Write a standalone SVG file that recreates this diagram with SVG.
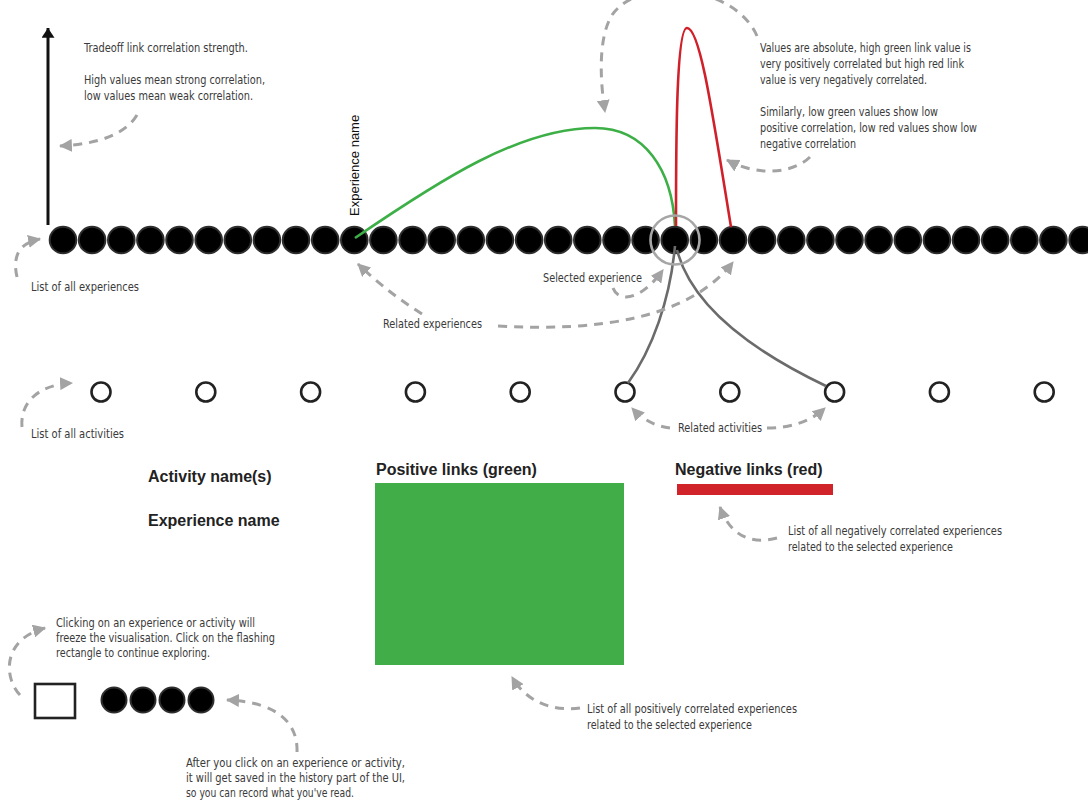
<svg xmlns="http://www.w3.org/2000/svg" width="1088" height="803" viewBox="0 0 1088 803">
<defs>
<marker id="ah" viewBox="0 0 12 12" refX="11" refY="6" markerWidth="13" markerHeight="13" markerUnits="userSpaceOnUse" orient="auto">
<path d="M0,0 L12,6 L0,12 z" fill="#a3a3a3"/>
</marker>
<marker id="bh" viewBox="0 0 12 16" refX="12" refY="8" markerWidth="16" markerHeight="13" markerUnits="userSpaceOnUse" orient="auto">
<path d="M0,0 L12,8 L0,16 z" fill="#111"/>
</marker>
</defs>
<style>
.exp{fill:#000;stroke:#2e2e2e;stroke-width:2}
.act{fill:#fff;stroke:#222;stroke-width:2.6}
.note{font-family:"Liberation Sans Narrow","DejaVu Sans Condensed","Liberation Sans",sans-serif;font-size:13px;fill:#3a3a3a}
.lbl{font-family:"Liberation Sans",Arial,sans-serif;font-size:16px;font-weight:bold;fill:#222}
.dash{fill:none;stroke:#a3a3a3;stroke-width:3;stroke-dasharray:9 7;marker-end:url(#ah)}
.link{fill:none;stroke-width:2.6}
</style>
<rect width="1088" height="803" fill="#fff"/>

<g id="axis">
<line x1="48" y1="225" x2="48" y2="28" stroke="#111" stroke-width="3" marker-end="url(#bh)"/>
</g>

<g id="experiences">
<circle class="exp" cx="63" cy="240" r="13.3"/>
<circle class="exp" cx="92.1" cy="240" r="13.3"/>
<circle class="exp" cx="121.3" cy="240" r="13.3"/>
<circle class="exp" cx="150.4" cy="240" r="13.3"/>
<circle class="exp" cx="179.5" cy="240" r="13.3"/>
<circle class="exp" cx="208.7" cy="240" r="13.3"/>
<circle class="exp" cx="237.8" cy="240" r="13.3"/>
<circle class="exp" cx="266.9" cy="240" r="13.3"/>
<circle class="exp" cx="296" cy="240" r="13.3"/>
<circle class="exp" cx="325.2" cy="240" r="13.3"/>
<circle class="exp" cx="354.3" cy="240" r="13.3"/>
<circle class="exp" cx="383.4" cy="240" r="13.3"/>
<circle class="exp" cx="412.6" cy="240" r="13.3"/>
<circle class="exp" cx="441.7" cy="240" r="13.3"/>
<circle class="exp" cx="470.8" cy="240" r="13.3"/>
<circle class="exp" cx="499.9" cy="240" r="13.3"/>
<circle class="exp" cx="529.1" cy="240" r="13.3"/>
<circle class="exp" cx="558.2" cy="240" r="13.3"/>
<circle class="exp" cx="587.3" cy="240" r="13.3"/>
<circle class="exp" cx="616.5" cy="240" r="13.3"/>
<circle class="exp" cx="645.6" cy="240" r="13.3"/>
<circle class="exp" cx="674.7" cy="240" r="13.3"/>
<circle class="exp" cx="703.9" cy="240" r="13.3"/>
<circle class="exp" cx="733" cy="240" r="13.3"/>
<circle class="exp" cx="762.1" cy="240" r="13.3"/>
<circle class="exp" cx="791.3" cy="240" r="13.3"/>
<circle class="exp" cx="820.4" cy="240" r="13.3"/>
<circle class="exp" cx="849.5" cy="240" r="13.3"/>
<circle class="exp" cx="878.6" cy="240" r="13.3"/>
<circle class="exp" cx="907.8" cy="240" r="13.3"/>
<circle class="exp" cx="936.9" cy="240" r="13.3"/>
<circle class="exp" cx="966" cy="240" r="13.3"/>
<circle class="exp" cx="995.2" cy="240" r="13.3"/>
<circle class="exp" cx="1024.3" cy="240" r="13.3"/>
<circle class="exp" cx="1053.4" cy="240" r="13.3"/>
<circle class="exp" cx="1082.6" cy="240" r="13.3"/>
</g>

<g id="activities">
<circle class="act" cx="101" cy="392" r="9.5"/>
<circle class="act" cx="205.8" cy="392" r="9.5"/>
<circle class="act" cx="310.6" cy="392" r="9.5"/>
<circle class="act" cx="415.4" cy="392" r="9.5"/>
<circle class="act" cx="520.2" cy="392" r="9.5"/>
<circle class="act" cx="625" cy="392" r="9.5"/>
<circle class="act" cx="729.8" cy="392" r="9.5"/>
<circle class="act" cx="834.6" cy="392" r="9.5"/>
<circle class="act" cx="939.4" cy="392" r="9.5"/>
<circle class="act" cx="1044.2" cy="392" r="9.5"/>
</g>

<g id="connectors">
<path class="link" stroke="#3daf47" d="M355,238 C440,180 520,128 595,128 C645,128 672,170 675,226"/>
<path class="link" stroke="#d0202a" d="M676,226 C676,150 676,28 687,28 C700,28 712,110 731,227"/>
<path class="link" stroke="#6b6b6b" d="M675,246 C670,300 652,350 628,383"/>
<path class="link" stroke="#6b6b6b" d="M677,250 C690,300 740,345 826,386"/>
<circle cx="675" cy="240" r="24.5" fill="none" stroke="#a6a6a6" stroke-width="2.6"/>
</g>

<g id="experience-name-label">
<text transform="translate(359,216) rotate(-90)" font-family="Liberation Sans,Arial,sans-serif" font-size="13" fill="#111">Experience name</text>
</g>

<g id="annotations">
<path class="dash" d="M137,115 Q120,143 60,146"/>
<path class="dash" d="M17,277 C12,255 20,243 40,239"/>
<path class="dash" d="M757,36 C735,-15 640,-25 612,15 C598,38 600,80 605,112"/>
<path class="dash" d="M810,157 C795,172 760,178 727,160"/>
<path class="dash" d="M613,288 C618,302 640,302 663,270"/>
<path class="dash" d="M422,314 C400,300 380,285 358,264"/>
<path class="dash" d="M498,326 C600,332 690,318 733,262"/>
<path class="dash" d="M670,428 C655,426 643,420 632,408"/>
<path class="dash" d="M767,428 C790,428 810,422 825,408"/>
<path class="dash" d="M22,427 C20,405 35,385 72,383"/>
<path class="dash" d="M777,538 C750,545 730,535 720,507"/>
<path class="dash" d="M580,708 C550,712 525,700 512,677"/>
<path class="dash" d="M20,695 C5,680 0,640 45,628"/>
<path class="dash" d="M297,752 C298,725 280,702 227,700"/>
</g>

<g id="notes">
<text class="note" x="84" y="52" textLength="164" lengthAdjust="spacingAndGlyphs">Tradeoff link correlation strength.</text>
<text class="note" x="84" y="84" textLength="181" lengthAdjust="spacingAndGlyphs">High values mean strong correlation,</text>
<text class="note" x="84" y="100" textLength="169" lengthAdjust="spacingAndGlyphs">low values mean weak correlation.</text>
<text class="note" x="31" y="291" textLength="108" lengthAdjust="spacingAndGlyphs">List of all experiences</text>
<text class="note" x="760" y="52" textLength="211" lengthAdjust="spacingAndGlyphs">Values are absolute, high green link value is</text>
<text class="note" x="760" y="68" textLength="204" lengthAdjust="spacingAndGlyphs">very positively correlated but high red link</text>
<text class="note" x="760" y="84" textLength="167" lengthAdjust="spacingAndGlyphs">value is very negatively correlated.</text>
<text class="note" x="760" y="116" textLength="178" lengthAdjust="spacingAndGlyphs">Similarly, low green values show low</text>
<text class="note" x="760" y="132" textLength="217" lengthAdjust="spacingAndGlyphs">positive correlation, low red values show low</text>
<text class="note" x="760" y="148" textLength="96" lengthAdjust="spacingAndGlyphs">negative correlation</text>
<text class="note" x="543" y="282" textLength="99" lengthAdjust="spacingAndGlyphs">Selected experience</text>
<text class="note" x="383" y="328" textLength="99" lengthAdjust="spacingAndGlyphs">Related experiences</text>
<text class="note" x="678" y="432" textLength="84" lengthAdjust="spacingAndGlyphs">Related activities</text>
<text class="note" x="31" y="438" textLength="93" lengthAdjust="spacingAndGlyphs">List of all activities</text>
<text class="note" x="788" y="535" textLength="214" lengthAdjust="spacingAndGlyphs">List of all negatively correlated experiences</text>
<text class="note" x="788" y="551" textLength="165" lengthAdjust="spacingAndGlyphs">related to the selected experience</text>
<text class="note" x="587" y="713" textLength="210" lengthAdjust="spacingAndGlyphs">List of all positively correlated experiences</text>
<text class="note" x="587" y="729" textLength="165" lengthAdjust="spacingAndGlyphs">related to the selected experience</text>
<text class="note" x="56" y="627" textLength="199" lengthAdjust="spacingAndGlyphs">Clicking on an experience or activity will</text>
<text class="note" x="56" y="642" textLength="219" lengthAdjust="spacingAndGlyphs">freeze the visualisation. Click on the flashing</text>
<text class="note" x="56" y="657" textLength="154" lengthAdjust="spacingAndGlyphs">rectangle to continue exploring.</text>
<text class="note" x="186" y="767" textLength="219" lengthAdjust="spacingAndGlyphs">After you click on an experience or activity,</text>
<text class="note" x="186" y="782" textLength="219" lengthAdjust="spacingAndGlyphs">it will get saved in the history part of the UI,</text>
<text class="note" x="186" y="797" textLength="168" lengthAdjust="spacingAndGlyphs">so you can record what you've read.</text>
</g>

<g id="details">
<text class="lbl" x="148" y="482">Activity name(s)</text>
<text class="lbl" x="148" y="526">Experience name</text>
</g>

<g id="positive-links">
<text class="lbl" x="376" y="475">Positive links (green)</text>
<rect x="375" y="483" width="249" height="182" fill="#41ad49"/>
</g>

<g id="negative-links">
<text class="lbl" x="675" y="475">Negative links (red)</text>
<rect x="677" y="484" width="156" height="11" fill="#d0232a"/>
</g>

<g id="freeze-toggle">
<rect x="35" y="684" width="40" height="34" fill="#fff" stroke="#222" stroke-width="2.6"/>
</g>

<g id="history">
<circle class="exp" cx="114" cy="700" r="12.5"/>
<circle class="exp" cx="143" cy="700" r="12.5"/>
<circle class="exp" cx="172" cy="700" r="12.5"/>
<circle class="exp" cx="201" cy="700" r="12.5"/>
</g>
</svg>
